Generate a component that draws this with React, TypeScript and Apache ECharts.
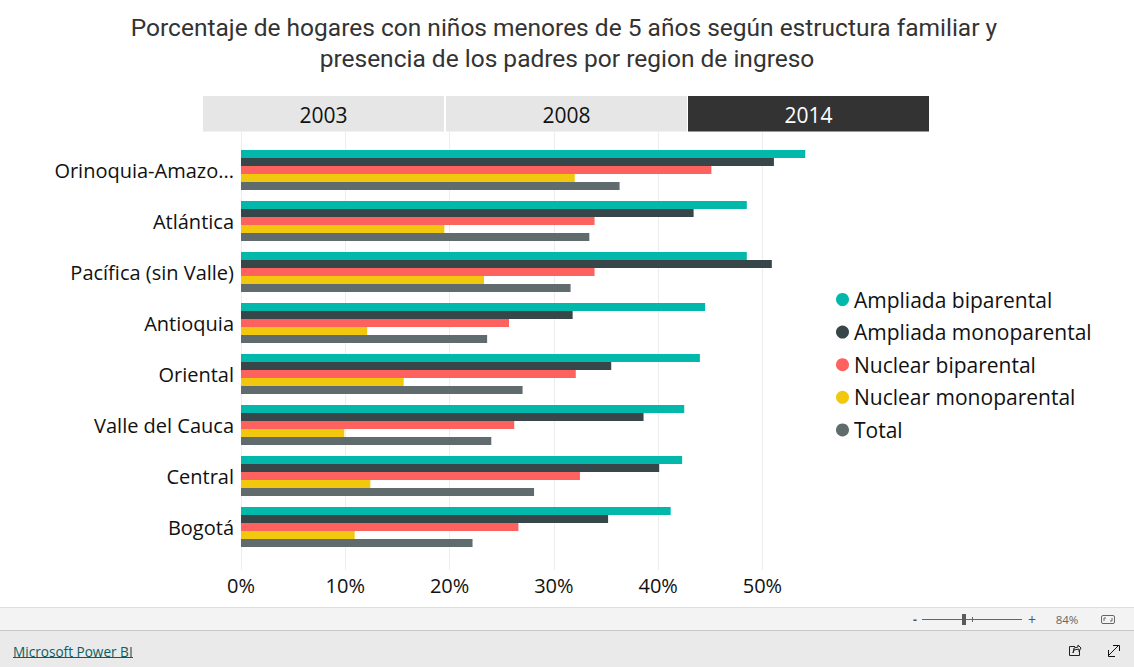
import React, { useEffect, useRef } from "react";
import * as echarts from "echarts";

const titleText = "Porcentaje de hogares con niños menores de 5 años según estructura familiar y \npresencia de los padres por region de ingreso";
const regions = ["Orinoquia-Amazo...", "Atlántica", "Pacífica (sin Valle)", "Antioquia", "Oriental", "Valle del Cauca", "Central", "Bogotá"];
const ampliadaBi = [54.1, 48.5, 48.5, 44.5, 44.0, 42.5, 42.3, 41.2];
const ampliadaMono = [51.1, 43.4, 50.9, 31.8, 35.5, 38.6, 40.1, 35.2];
const nuclearBi = [45.1, 33.9, 33.9, 25.7, 32.1, 26.2, 32.5, 26.6];
const nuclearMono = [32.0, 19.5, 23.3, 12.1, 15.6, 9.9, 12.4, 10.9];
const total = [36.3, 33.4, 31.6, 23.6, 27.0, 24.0, 28.1, 22.2];
const seriesNames = ["Ampliada biparental", "Ampliada monoparental", "Nuclear biparental", "Nuclear monoparental", "Total"];
const seriesValues = [ampliadaBi, ampliadaMono, nuclearBi, nuclearMono, total];
const colors = ["#01B8AA", "#374649", "#FD625E", "#F2C80F", "#5F6B6D"];
const years = ["2003", "2008", "2014"];

const LABEL_FONT = "'Open Sans', 'Noto Sans', sans-serif";
const LEFT = 241;
const WIDTH = 573.6;

export default function App() {
  const ref = useRef<HTMLDivElement>(null);
  useEffect(() => {
    const chart = echarts.init(ref.current!, undefined, { renderer: "svg" });
    const slicerX = [203, 446, 688];
    const slicerW = [241, 241, 241];
    const gfx: any[] = [
      { type: "rect", silent: true, z: -1, shape: { x: 0, y: 607, width: 1134, height: 23 }, style: { fill: "#F3F3F3" } },
      { type: "rect", silent: true, z: -1, shape: { x: 0, y: 630, width: 1134, height: 37 }, style: { fill: "#EAEAEA" } },
      { type: "line", silent: true, shape: { x1: 0, y1: 607.5, x2: 1134, y2: 607.5 }, style: { stroke: "#DEDEDE", lineWidth: 1 } },
      { type: "line", silent: true, shape: { x1: 0, y1: 630.5, x2: 1134, y2: 630.5 }, style: { stroke: "#C8C8C8", lineWidth: 1 } },
      { type: "text", silent: true, x: 13, y: 651, style: { text: "Microsoft Power BI", font: "13.6px 'Open Sans', sans-serif", fill: "#0B5F63", textVerticalAlign: "middle" } },
      { type: "line", silent: true, shape: { x1: 13, y1: 657.5, x2: 133, y2: 657.5 }, style: { stroke: "#0B5F63", lineWidth: 1 } },
      // zoom bar
      { type: "text", silent: true, x: 915, y: 619, style: { text: "-", font: "bold 12px 'Open Sans', sans-serif", fill: "#555", textAlign: "center", textVerticalAlign: "middle" } },
      { type: "line", silent: true, shape: { x1: 922, y1: 619.5, x2: 1022, y2: 619.5 }, style: { stroke: "#666", lineWidth: 1 } },
      { type: "rect", silent: true, shape: { x: 962, y: 614, width: 4, height: 11 }, style: { fill: "#5A5A5A" } },
      { type: "line", silent: true, shape: { x1: 972.5, y1: 617, x2: 972.5, y2: 622 }, style: { stroke: "#666", lineWidth: 1 } },
      { type: "text", silent: true, x: 1032, y: 619, style: { text: "+", font: "14px 'Open Sans', sans-serif", fill: "#555", textAlign: "center", textVerticalAlign: "middle" } },
      { type: "text", silent: true, x: 1067, y: 619, style: { text: "84%", font: "11.5px 'Open Sans', sans-serif", fill: "#666", textAlign: "center", textVerticalAlign: "middle" } },
      { type: "rect", silent: true, shape: { x: 1101.5, y: 615.5, width: 13, height: 8, r: 1.5 }, style: { fill: "none", stroke: "#666", lineWidth: 1 } },
      { type: "polyline", silent: true, shape: { points: [[1104, 621], [1104, 618], [1106, 618]] }, style: { fill: "none", stroke: "#666", lineWidth: 1 } },
      { type: "polyline", silent: true, shape: { points: [[1112, 618], [1112, 621], [1110, 621]] }, style: { fill: "none", stroke: "#666", lineWidth: 1 } },
      // share icon
      { type: "polyline", silent: true, shape: { points: [[1075, 646.5], [1069.5, 646.5], [1069.5, 655.5], [1079.5, 655.5], [1079.5, 651]] }, style: { fill: "none", stroke: "#222", lineWidth: 1 } },
      { type: "polyline", silent: true, shape: { points: [[1073, 653], [1074, 650], [1079, 649], [1079, 651.5], [1081, 648], [1078, 645], [1078, 647], [1074, 648], [1073, 653]] }, style: { fill: "none", stroke: "#222", lineWidth: 1 } },
      // expand icon
      { type: "line", silent: true, shape: { x1: 1109, y1: 655, x2: 1119, y2: 645 }, style: { stroke: "#111", lineWidth: 1 } },
      { type: "polyline", silent: true, shape: { points: [[1108.5, 650], [1108.5, 656.5], [1115, 656.5]] }, style: { fill: "none", stroke: "#111", lineWidth: 1 } },
      { type: "polyline", silent: true, shape: { points: [[1113, 645.5], [1119.5, 645.5], [1119.5, 651]] }, style: { fill: "none", stroke: "#111", lineWidth: 1 } },
    ];
    years.forEach((y, i) => {
      const active = i === 2;
      gfx.push({ type: "rect", silent: true, shape: { x: slicerX[i], y: 96, width: slicerW[i], height: 35.5 }, style: { fill: active ? "#333333" : "#E6E6E6" } });
      gfx.push({
        type: "text", silent: true, x: slicerX[i] + slicerW[i] / 2, y: 115,
        style: { text: y, font: `21px ${LABEL_FONT}`, fill: active ? "#FFFFFF" : "#111111", textAlign: "center", textVerticalAlign: "middle" },
      });
    });

    chart.setOption({
      animation: false,
      backgroundColor: "#FFFFFF",
      title: {
        text: titleText,
        left: 562,
        top: 7,
        textAlign: "center",
        textStyle: { fontFamily: "Roboto, sans-serif", fontSize: 24.5, fontWeight: 400, color: "#333333", lineHeight: 31 },
      },
      legend: {
        orient: "vertical",
        left: 831,
        top: 281,
        icon: "circle",
        itemWidth: 13,
        itemHeight: 13,
        itemGap: 5.6,
        data: seriesNames,
        textStyle: { fontFamily: LABEL_FONT, fontSize: 21, color: "#111111", height: 27, lineHeight: 27 },
      },
      grid: [
        { left: LEFT, width: WIDTH, top: 144.5, height: 408 },
        { left: LEFT, width: WIDTH, top: 132, height: 438 },
      ],
      xAxis: [
        { gridIndex: 0, type: "value", min: 0, max: 55, interval: 10, show: false },
        {
          gridIndex: 1, type: "value", min: 0, max: 55, interval: 10,
          axisLine: { show: false }, axisTick: { show: false },
          splitLine: { show: true, showMaxLine: false, lineStyle: { color: "#EDEDED", width: 1 } },
          axisLabel: {
            margin: 5, fontFamily: LABEL_FONT, fontSize: 20, color: "#111111", showMaxLabel: false,
            formatter: (v: number) => `${v}%`,
          },
        },
      ],
      yAxis: [
        {
          gridIndex: 0, type: "category", inverse: true, data: regions,
          axisLine: { show: false }, axisTick: { show: false }, splitLine: { show: false },
          axisLabel: { margin: 7, fontFamily: LABEL_FONT, fontSize: 20, color: "#111111", padding: [0, 0, 4, 0] },
        },
        { gridIndex: 1, type: "value", min: 0, max: 1, show: false },
      ],
      series: seriesNames.map((name, i) => ({
        name,
        type: "bar",
        xAxisIndex: 0,
        yAxisIndex: 0,
        data: seriesValues[i],
        barWidth: 8,
        barGap: "0%",
        itemStyle: { color: colors[i] },
      })),
      graphic: { elements: gfx },
    });
    return () => chart.dispose();
  }, []);
  return <div ref={ref} style={{ position: "fixed", left: 0, top: 0, width: 1134, height: 667 }} />;
}
